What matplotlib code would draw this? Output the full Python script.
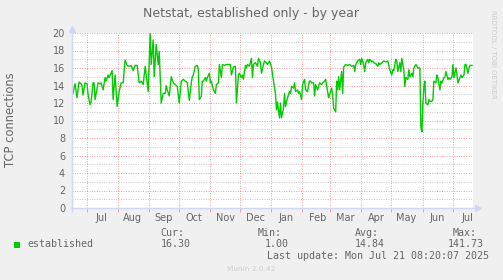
import datetime as dt

import matplotlib
matplotlib.use("Agg")
import matplotlib.dates as mdates
import matplotlib.pyplot as plt
from matplotlib.patches import Rectangle

# series: day offset from the start of the yearly window, TCP connections
START = dt.datetime(2024, 6, 16, 8, 20)
END = dt.datetime(2025, 7, 21, 8, 20)

days = [
    1, 3, 5, 7, 9, 10, 11, 13, 15, 16, 18, 19, 21, 22, 23, 26, 28, 29, 31, 33,
    34, 36, 37, 40, 41, 43, 45, 47, 49, 51, 53, 55, 57, 59, 61, 63, 65, 67, 69, 71,
    73, 76, 78, 79, 81, 82, 84, 86, 87, 89, 91, 93, 94, 95, 97, 99, 101, 103, 105, 106,
    107, 109, 111, 113, 115, 117, 119, 120, 121, 123, 125, 126, 127, 129, 130, 131, 133, 134, 135, 137,
    138, 139, 141, 143, 144, 146, 147, 149, 150, 152, 154, 156, 158, 159, 161, 163, 164, 166, 167, 169,
    170, 171, 173, 174, 175, 177, 179, 180, 181, 183, 185, 186, 188, 189, 191, 192, 193, 195, 196, 197,
    199, 201, 203, 204, 205, 207, 208, 209, 211, 212, 213, 215, 217, 218, 219, 221, 222, 223, 225, 226,
    227, 229, 230, 232, 233, 235, 236, 237, 238, 239, 241, 242, 243, 245, 247, 249, 250, 252, 253, 255,
    256, 257, 259, 260, 261, 263, 264, 265, 266, 267, 269, 270, 271, 273, 275, 277, 279, 281, 282, 283,
    285, 287, 288, 289, 291, 292, 293, 295, 296, 297, 299, 300, 301, 303, 305, 306, 307, 309, 311, 313,
    315, 317, 319, 320, 321, 323, 324, 325, 327, 328, 329, 331, 332, 333, 335, 336, 337, 339, 340, 341,
    343, 344, 345, 347, 348, 349, 350, 351, 352, 353, 355, 356, 357, 359, 360, 361, 363, 364, 365, 367,
    368, 369, 371, 372, 373, 375, 376, 377, 379, 380, 381, 383, 384, 385, 387, 388, 389, 391, 392, 393,
    395, 396, 397, 399,
]
established = [
    13.1, 14.2, 12.6, 14.4, 14.2, 14.0, 12.9, 14.3, 14.2, 13.0, 11.8, 12.1, 14.3, 14.3, 12.4, 14.3, 14.2, 14.3, 13.5, 14.9,
    14.5, 15.2, 14.9, 15.7, 12.4, 15.2, 11.6, 13.3, 14.3, 14.3, 16.9, 16.3, 16.2, 16.3, 15.7, 16.3, 16.3, 14.3, 14.5, 14.1,
    16.2, 13.3, 20.0, 16.4, 19.2, 15.0, 18.7, 16.4, 17.9, 12.0, 13.1, 13.1, 14.0, 13.5, 12.8, 15.0, 14.3, 14.1, 13.9, 13.0,
    12.0, 14.5, 14.7, 14.5, 14.3, 12.3, 14.3, 15.0, 15.2, 16.2, 16.3, 15.8, 12.4, 12.8, 14.5, 14.5, 14.9, 14.5, 14.9, 15.4,
    14.3, 14.5, 13.5, 13.1, 14.1, 14.3, 16.4, 14.9, 16.4, 16.3, 16.4, 16.4, 16.4, 15.2, 16.1, 16.2, 12.0, 15.2, 15.4, 14.9,
    15.2, 14.7, 16.3, 16.0, 16.4, 16.2, 17.1, 14.9, 16.4, 16.6, 16.2, 17.1, 16.6, 15.4, 16.4, 16.8, 16.7, 16.4, 16.6, 16.8,
    16.1, 14.5, 13.0, 11.2, 12.1, 10.3, 12.0, 10.3, 11.4, 13.1, 11.6, 12.6, 13.3, 13.1, 13.9, 13.7, 14.3, 13.3, 13.5, 13.1,
    13.3, 12.4, 14.1, 14.7, 13.5, 13.3, 14.1, 14.5, 14.5, 14.3, 14.3, 12.8, 14.1, 13.5, 14.3, 14.1, 14.3, 14.5, 14.7, 13.3,
    12.6, 13.0, 13.7, 13.0, 11.4, 11.0, 14.5, 13.5, 15.0, 13.5, 15.6, 13.1, 16.1, 16.4, 16.3, 16.4, 16.2, 16.3, 15.6, 16.4,
    16.8, 17.0, 16.4, 17.1, 16.3, 15.6, 16.6, 17.0, 16.6, 17.0, 16.7, 16.8, 16.6, 16.5, 16.2, 16.6, 16.4, 16.6, 16.8, 16.7,
    16.8, 15.8, 15.2, 15.8, 15.7, 17.0, 16.8, 15.6, 16.6, 15.6, 17.1, 15.8, 13.9, 14.9, 14.7, 15.8, 15.0, 15.4, 15.0, 16.0,
    16.4, 16.2, 16.0, 16.0, 9.3, 8.7, 11.8, 13.9, 14.5, 12.0, 11.8, 12.4, 12.2, 12.2, 12.4, 14.5, 14.3, 15.2, 14.9, 13.5,
    14.5, 14.3, 14.9, 15.0, 15.6, 14.7, 14.9, 14.7, 15.0, 16.4, 14.9, 16.0, 15.2, 14.3, 14.9, 15.2, 14.9, 15.2, 16.4, 16.4,
    15.4, 16.0, 16.3, 16.3,
]

month_labels = ["Jul", "Aug", "Sep", "Oct", "Nov", "Dec", "Jan", "Feb", "Mar", "Apr", "May", "Jun", "Jul"]
month_starts = [dt.datetime(2024 + (6 + i) // 12, (6 + i) % 12 + 1, 1) for i in range(len(month_labels))]
month_mids = [m + dt.timedelta(days=15) for m in month_starts]

legend_cols = ["Cur:", "Min:", "Avg:", "Max:"]
legend_vals = ["16.30", "1.00", "14.84", "141.73"]

BACK = "#F0F0F0"
FONT = "#666666"
AXIS = "#CFD6F8"
W, H = 503, 280


def fx(px):
    return px / W


def fy(py):
    return 1 - py / H


fig = plt.figure(figsize=(W / 100, H / 100), dpi=100, facecolor=BACK)
ax = fig.add_axes([fx(72), fy(208), fx(473 - 72), 175 / H])
ax.set_facecolor("white")

x = [START + dt.timedelta(days=d) for d in days]
ax.plot(x, established, color="#00CC00", linewidth=1.0, zorder=3)

ax.set_xlim(START, END)
ax.set_ylim(0, 20)

# y grid: major every 2 (red), minor every 1 (grey)
ax.set_yticks(range(0, 21, 2))
ax.set_yticks(range(1, 20, 2), minor=True)
for v in range(1, 20, 2):
    ax.axhline(v, color="#C8C8C8", linewidth=0.7, dashes=(1, 1.5), zorder=1)
for v in range(2, 21, 2):
    ax.axhline(v, color="#FF0000", alpha=0.4, linewidth=0.7, dashes=(1, 1.5), zorder=2)
for m in month_starts:
    ax.axvline(m, color="#FF0000", alpha=0.4, linewidth=0.7, dashes=(1, 1.5), zorder=2)

ax.set_xticks(month_starts)
ax.set_xticklabels([])
ax.set_xticks(month_mids, minor=True)
ax.set_xticklabels(month_labels, minor=True)
ax.tick_params(axis="x", which="major", length=3, width=0.7, color="#F4A0A0", direction="out")
ax.tick_params(axis="x", which="minor", length=0, pad=3.5, labelsize=7, labelcolor=FONT)
ax.tick_params(axis="y", which="both", length=0, pad=5, labelsize=7, labelcolor=FONT)

for s in ax.spines.values():
    s.set_visible(False)

# axes with arrows
ax.plot([0, 0], [-0.02, 1.02], transform=ax.transAxes, color=AXIS, linewidth=1, clip_on=False, zorder=4)
ax.plot([-0.003, 1.01], [0, 0], transform=ax.transAxes, color=AXIS, linewidth=1, clip_on=False, zorder=4)
ax.plot([0], [1.025], transform=ax.transAxes, marker="^", markersize=4, color=AXIS, clip_on=False, zorder=4)
ax.plot([1.012], [0], transform=ax.transAxes, marker=">", markersize=4, color=AXIS, clip_on=False, zorder=4)

fig.text(fx(251), fy(13.5), "Netstat, established only - by year", ha="center", va="center",
         fontsize=9, color=FONT)
fig.text(fx(11), fy(119.5), "TCP connections", rotation=90, ha="center", va="center",
         fontsize=8.3, color=FONT)
fig.text(fx(493), fy(54), "RRDTOOL / TOBI OETIKER", rotation=270, ha="center", va="center",
         fontsize=5, color="#CCCCCC")

# legend block
mono = "DejaVu Sans Mono"
fig.patches.append(Rectangle((fx(14), fy(247.7)), fx(6), 5.5 / H, transform=fig.transFigure,
                             facecolor="#00CC00", edgecolor="none"))
fig.text(fx(27), fy(244), "established", family=mono, fontsize=7.2, color=FONT, va="center")
col_x = [160.7, 257.7, 355, 452.7]
val_x = [160.7, 264.3, 355, 447.3]
for cx, vx, c, v in zip(col_x, val_x, legend_cols, legend_vals):
    fig.text(fx(cx), fy(232.5), c, family=mono, fontsize=7.2, color=FONT, va="center")
    fig.text(fx(vx), fy(244), v, family=mono, fontsize=7.2, color=FONT, va="center")
fig.text(fx(267), fy(256.3), "Last update: Mon Jul 21 08:20:07 2025", family=mono, fontsize=7.2,
         color=FONT, va="center")
fig.text(fx(251.5), fy(269), "Munin 2.0.42", ha="center", va="center", fontsize=5.3, color="#CCCCCC")

fig.savefig("out.png", dpi=100, facecolor=BACK)
